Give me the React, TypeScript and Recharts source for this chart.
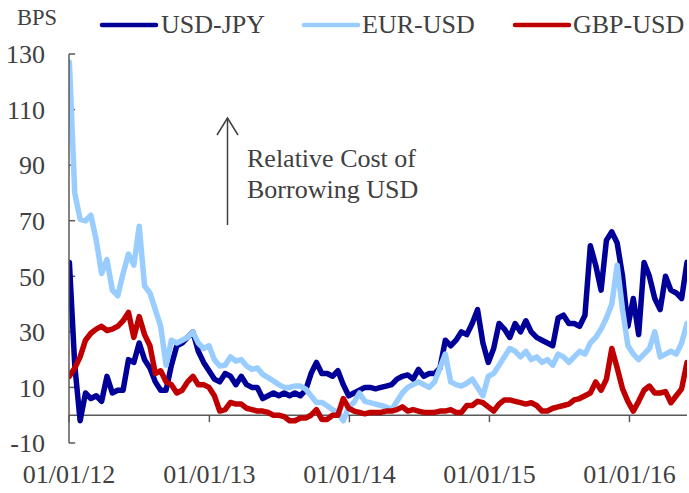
import React from 'react';
import { LineChart, Line, XAxis, YAxis, ReferenceLine } from 'recharts';

const DAY = 86400000;
const START = Date.UTC(2012, 0, 2);
const STEP_DAYS = 14;

// basis, bps, one reading every two weeks
const usdJpy = [
  55, 18, -2, 8, 6, 7, 5, 14, 8, 9,
  9, 20, 19, 26, 20, 17, 12, 9, 9, 18,
  25, 26, 28, 30, 23, 19, 16, 13, 12, 15,
  14, 11, 14, 11, 10, 10, 6, 7, 8, 7,
  8, 7, 8, 7, 9, 15, 19, 15, 15, 14,
  16, 11, 7, 8, 9, 10, 10, 9.5, 10, 10.5,
  11, 13, 14, 14.5, 13, 16.5, 14, 15, 15, 17,
  27, 25, 27, 30, 29, 33, 38, 26, 19, 24,
  33, 31, 28, 33, 30, 34, 30, 28, 27, 26,
  25, 35, 36, 33, 33, 32, 36, 61, 54, 45,
  63, 66, 62, 50, 32, 42, 29, 55, 50, 42,
  38, 50, 45, 44, 42, 55,
];
const eurUsd = [
  127, 80, 70.5, 70, 72, 63, 51, 56, 45, 43,
  51, 58, 54, 68, 46.5, 44, 38, 32, 18, 27,
  26, 27, 28, 30, 26, 24, 25, 20, 17.7, 18,
  21, 19.5, 20, 17.7, 16.5, 17, 14.7, 13.5, 12.3, 11,
  10, 10, 10.5, 10.5, 9.4, 7, 4.6, 4.6, 3.4, 2,
  1, -2, 3, 4.6, 8, 5, 4.5, 4, 3.5, 3,
  2, 5, 8, 10, 11, 12, 11, 10, 12, 17,
  22, 12, 11, 10.5, 11.5, 13, 10, 7, 14, 15,
  18, 21, 24, 23, 21, 23, 20, 21, 19, 20,
  18, 22, 21, 19, 21, 23, 22, 26, 28, 31,
  35, 40, 54, 38, 25, 22, 20, 22, 24, 30,
  21, 22, 23, 22, 26, 33,
];
const gbpUsd = [
  14, 17, 21, 27, 29.5, 31, 32, 30.5, 31, 32,
  34, 37, 28, 35.5, 29, 25, 15, 16, 12, 11,
  8, 9, 12, 14, 11, 11, 10, 7, 1.5, 2,
  4.6, 4, 4, 2.5, 2, 1.5, 1.5, 1, 0, 0,
  -0.5, -2, -2, -1, -1, 0, 2, -1.5, -1.5, 0,
  0, 6, 2.5, 1.5, 1, 0.5, 1, 1, 1, 1.5,
  1.5, 2, 3, 1.5, 2, 1.5, 1, 1, 1, 1.5,
  1.5, 2, 1, 1, 3.5, 3.5, 5, 4.5, 3, 1.5,
  4, 5.5, 5.5, 5, 4.5, 4, 4.5, 3.5, 1.5, 1.5,
  2.5, 3, 3.5, 4, 5.5, 6, 7, 8, 12, 9,
  13, 24, 17, 9.5, 5, 1.5, 5, 9, 10.5, 8,
  8, 8.5, 4.5, 7, 9.5, 19,
];

const yTicks = [-10, 10, 30, 50, 70, 90, 110, 130];
const xTicks = [2012, 2013, 2014, 2015, 2016].map((y) => Date.UTC(y, 0, 1));

const series = [
  { key: 'usdJpy', name: 'USD-JPY', color: '#000099' },
  { key: 'eurUsd', name: 'EUR-USD', color: '#99CCFF' },
  { key: 'gbpUsd', name: 'GBP-USD', color: '#C00000' },
];

const data = usdJpy.map((v, i) => ({
  date: START + i * STEP_DAYS * DAY,
  usdJpy: v,
  eurUsd: eurUsd[i],
  gbpUsd: gbpUsd[i],
}));

const FONT = '"Liberation Serif", "Times New Roman", serif';
const TEXT = '#404040';
const AXIS = '#595959';

const fmtDate = (t: number) => {
  const d = new Date(t);
  return `01/01/${String(d.getUTCFullYear()).slice(2)}`;
};

const legendPos = [
  { x1: 102, x2: 156, tx: 161 },
  { x1: 304, x2: 358, tx: 362 },
  { x1: 515, x2: 569, tx: 573 },
];

const App: React.FC = () => {
  const xMin = xTicks[0];
  const xMax = data[data.length - 1].date;
  return (
    <div style={{ position: 'absolute', left: 0, top: 0, width: 689, height: 493, background: '#fff' }}>
      <LineChart width={689} height={493} data={data} margin={{ top: 54, right: 2, bottom: 10, left: 0 }}>
        <XAxis
          dataKey="date"
          type="number"
          domain={[xMin, xMax]}
          ticks={xTicks}
          interval={0}
          tickFormatter={fmtDate}
          axisLine={false}
          tickLine={false}
          tickSize={0}
          tickMargin={22}
          height={40}
          allowDataOverflow
          tick={{ fill: TEXT, fontSize: 26, fontFamily: FONT }}
        />
        <YAxis
          type="number"
          domain={[-10, 130]}
          ticks={yTicks}
          interval={0}
          width={69}
          axisLine={{ stroke: AXIS, strokeWidth: 1.5 }}
          tickLine={false}
          tickSize={0}
          tickMargin={24}
          tick={{ fill: TEXT, fontSize: 26, fontFamily: FONT }}
        />
        <ReferenceLine y={0} stroke={AXIS} strokeWidth={1.5} />
        {xTicks.map((t) => (
          <ReferenceLine key={`xt${t}`} segment={[{ x: t, y: 0 }, { x: t, y: -2.5 }]} stroke={AXIS} strokeWidth={1.5} />
        ))}
        {yTicks.map((v) => (
          <ReferenceLine key={`yt${v}`} segment={[{ x: xMin, y: v }, { x: xMin + 16 * DAY, y: v }]} stroke={AXIS} strokeWidth={1.5} />
        ))}
        {series.map((s) => (
          <Line
            key={s.key}
            dataKey={s.key}
            name={s.name}
            stroke={s.color}
            strokeWidth={5.5}
            strokeLinejoin="round"
            strokeLinecap="round"
            dot={false}
            isAnimationActive={false}
          />
        ))}
      </LineChart>
      <svg width={689} height={493} style={{ position: 'absolute', left: 0, top: 0, pointerEvents: 'none' }}>
        <text x={17} y={25} fill={TEXT} fontSize={22.5} fontFamily={FONT}>BPS</text>
        {series.map((s, i) => (
          <g key={s.key}>
            <line x1={legendPos[i].x1} x2={legendPos[i].x2} y1={25} y2={25} stroke={s.color} strokeWidth={4.5} strokeLinecap="round" />
            <text x={legendPos[i].tx} y={33} fill={TEXT} fontSize={26} fontFamily={FONT}>{s.name}</text>
          </g>
        ))}
        <line x1={227.5} x2={227.5} y1={225} y2={118} stroke={TEXT} strokeWidth={1.5} />
        <polyline points="217,135 227.5,118 238,135" fill="none" stroke={TEXT} strokeWidth={1.5} />
        <text x={247} y={167} fill={TEXT} fontSize={26} fontFamily={FONT}>Relative Cost of</text>
        <text x={247} y={198} fill={TEXT} fontSize={26} fontFamily={FONT}>Borrowing USD</text>
      </svg>
    </div>
  );
};

export default App;
